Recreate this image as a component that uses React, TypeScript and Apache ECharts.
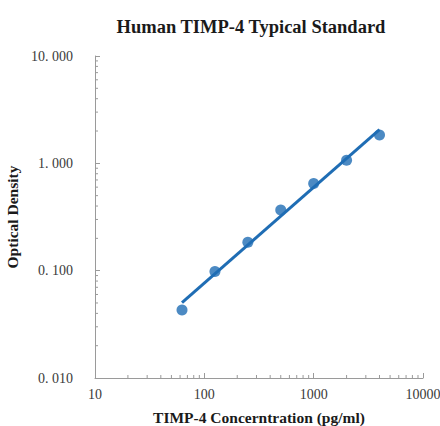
import React, { useEffect, useRef } from "react";
import * as echarts from "echarts";

const concentrations = [62.5, 125, 250, 500, 1000, 2000, 4000];
const opticalDensity = [0.043, 0.098, 0.184, 0.367, 0.65, 1.07, 1.84];
const xTickDecades = [10, 100, 1000];
const yTickDecades = [0.01, 0.1, 1];
const minorMultipliers = [2, 3, 4, 5, 6, 7, 8, 9];

const BLUE = "#1f6db4";
const FONT = "Liberation Serif";
const AXIS = "#9a9a9a";

function powerFit(xs: number[], ys: number[]) {
  const lx = xs.map(Math.log10);
  const ly = ys.map(Math.log10);
  const n = lx.length;
  const mx = lx.reduce((a, b) => a + b, 0) / n;
  const my = ly.reduce((a, b) => a + b, 0) / n;
  let sxy = 0;
  let sxx = 0;
  for (let i = 0; i < n; i++) {
    sxy += (lx[i] - mx) * (ly[i] - my);
    sxx += (lx[i] - mx) * (lx[i] - mx);
  }
  const slope = sxy / sxx;
  const intercept = my - slope * mx;
  return (x: number) => Math.pow(10, intercept + slope * Math.log10(x));
}

export default function App() {
  const ref = useRef<HTMLDivElement>(null);
  useEffect(() => {
    if (!ref.current) return;
    const chart = echarts.init(ref.current, undefined, { renderer: "svg" });
    const fit = powerFit(concentrations, opticalDensity);
    const x0 = concentrations[0];
    const x1 = concentrations[concentrations.length - 1];
    const trend = [
      [x0, fit(x0)],
      [x1, fit(x1)],
    ];
    const xMinor: number[][] = [];
    xTickDecades.forEach((d) => minorMultipliers.forEach((m) => xMinor.push([d * m, 0.01])));
    const yMinor: number[][] = [];
    yTickDecades.forEach((d) => minorMultipliers.forEach((m) => yMinor.push([10, d * m])));

    chart.setOption({
      animation: false,
      backgroundColor: "#ffffff",
      title: {
        text: "Human TIMP-4 Typical Standard",
        left: 246,
        textAlign: "center",
        top: 12,
        textStyle: { fontFamily: FONT, fontSize: 18.5, fontWeight: "bold", color: "#1a1a1a" },
      },
      grid: { left: 95, right: 17, top: 56, bottom: 48, containLabel: false, outerBoundsMode: "none" },
      xAxis: {
        type: "log",
        logBase: 10,
        min: 10,
        max: 10000,
        name: "TIMP-4 Concerntration (pg/ml)",
        nameLocation: "middle",
        nameGap: 31,
        nameTextStyle: { fontFamily: FONT, fontSize: 15.5, fontWeight: "bold", color: "#1a1a1a" },
        axisLine: { show: true, lineStyle: { color: AXIS, width: 1 } },
        axisTick: { show: true, inside: true, length: 5, lineStyle: { color: AXIS } },
        axisLabel: {
          fontFamily: FONT,
          fontSize: 14,
          color: "#3a3a3a",
          margin: 9,
          formatter: (v: number) => String(Math.round(v)),
        },
        splitLine: { show: false },
      },
      yAxis: {
        type: "log",
        logBase: 10,
        min: 0.01,
        max: 10,
        name: "Optical Density",
        nameLocation: "middle",
        nameGap: 66,
        nameTextStyle: { fontFamily: FONT, fontSize: 15.5, fontWeight: "bold", color: "#1a1a1a" },
        axisLine: { show: true, lineStyle: { color: AXIS, width: 1 } },
        axisTick: { show: true, inside: true, length: 5, lineStyle: { color: AXIS } },
        axisLabel: {
          fontFamily: FONT,
          fontSize: 14,
          color: "#3a3a3a",
          margin: 22,
          formatter: (v: number) => v.toFixed(3).replace(".", ". "),
        },
        splitLine: { show: false },
      },
      series: [
        {
          type: "custom",
          silent: true,
          clip: false,
          data: xMinor,
          renderItem: (params: any, api: any) => {
            const p = api.coord([api.value(0), api.value(1)]);
            return {
              type: "line",
              shape: { x1: p[0], y1: p[1], x2: p[0], y2: p[1] - 3 },
              style: { stroke: AXIS, lineWidth: 1 },
            };
          },
          z: 1,
        },
        {
          type: "custom",
          silent: true,
          clip: false,
          data: yMinor,
          renderItem: (params: any, api: any) => {
            const p = api.coord([api.value(0), api.value(1)]);
            return {
              type: "line",
              shape: { x1: p[0], y1: p[1], x2: p[0] + 3, y2: p[1] },
              style: { stroke: AXIS, lineWidth: 1 },
            };
          },
          z: 1,
        },
        {
          type: "line",
          data: trend,
          symbol: "none",
          lineStyle: { color: BLUE, width: 3 },
          z: 2,
        },
        {
          type: "scatter",
          data: concentrations.map((c, i) => [c, opticalDensity[i]]),
          symbolSize: 11,
          itemStyle: { color: BLUE },
          z: 3,
        },
      ],
    });
    return () => chart.dispose();
  }, []);
  return (
    <div
      ref={ref}
      style={{ position: "fixed", left: 0, top: 0, width: 440, height: 426 }}
    />
  );
}
